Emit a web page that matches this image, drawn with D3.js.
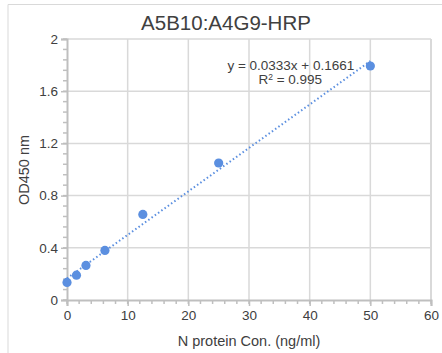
<!DOCTYPE html>
<html>
<head>
<meta charset="utf-8">
<script src="https://cdn.jsdelivr.net/npm/d3@7"></script>
<style>
  body { margin: 0; background: #fff; }
  text { font-family: "Liberation Sans", Arial, sans-serif; fill: #404040; }
</style>
</head>
<body>
<svg id="chart" width="442" height="353"></svg>
<script>
// data
const concs = [0, 1.5625, 3.125, 6.25, 12.5, 25, 50];
const ods = [0.135, 0.19, 0.265, 0.38, 0.656, 1.05, 1.793];
const slope = 0.0333, intercept = 0.1661;
const xTicks = [0, 10, 20, 30, 40, 50, 60];
const yTicks = [0, 0.4, 0.8, 1.2, 1.6, 2];

const svg = d3.select("#chart"),
      margin = {top: 39, right: 11, bottom: 53, left: 67},
      width = +svg.attr("width") - margin.left - margin.right,
      height = +svg.attr("height") - margin.top - margin.bottom;

// outer chart frame (only top/left visible in crop)
svg.append("path").attr("d", "M8,353 V4.5 H442").attr("fill", "none").attr("stroke", "#d9d9d9").attr("stroke-width", 1);

const g = svg.append("g").attr("transform", `translate(${margin.left},${margin.top})`);

const x = d3.scaleLinear().domain([0, 60]).range([0, width]);
const y = d3.scaleLinear().domain([0, 2]).range([height, 0]);

// gridlines
g.append("g").selectAll("line").data(xTicks.slice(1)).join("line")
  .attr("x1", d => x(d)).attr("x2", d => x(d)).attr("y1", 0).attr("y2", height)
  .attr("stroke", "#d9d9d9").attr("stroke-width", d => d === 60 ? 2 : 1.5);
g.append("g").selectAll("line").data(yTicks.slice(1)).join("line")
  .attr("x1", 0).attr("x2", width).attr("y1", d => y(d)).attr("y2", d => y(d))
  .attr("stroke", "#d9d9d9").attr("stroke-width", 1.5);

// minor ticks
g.append("g").selectAll("line").data(d3.range(0, 2.001, 0.08)).join("line")
  .attr("x1", -4).attr("x2", 0).attr("y1", d => y(d)).attr("y2", d => y(d))
  .attr("stroke", "#bfbfbf").attr("stroke-width", 1.5);
g.append("g").selectAll("line").data(d3.range(0, 60.1, 2)).join("line")
  .attr("x1", d => x(d)).attr("x2", d => x(d)).attr("y1", height).attr("y2", height + 4)
  .attr("stroke", "#bfbfbf").attr("stroke-width", 1.5);

// axes
const yAxis = g.append("g").call(d3.axisLeft(y).tickValues(yTicks).tickSize(6).tickFormat(d => d));
const xAxis = g.append("g").attr("transform", `translate(0,${height})`)
  .call(d3.axisBottom(x).tickValues(xTicks).tickSize(6));
[yAxis, xAxis].forEach(a => {
  a.select(".domain").attr("stroke", "#bfbfbf").attr("stroke-width", 2);
  a.selectAll(".tick line").attr("stroke", "#bfbfbf").attr("stroke-width", 1.5);
  a.selectAll(".tick text").attr("font-size", 13.5).attr("fill", "#404040")
    .attr("font-family", "Liberation Sans, Arial, sans-serif");
});
yAxis.selectAll(".tick text").attr("x", -9);
xAxis.selectAll(".tick text").attr("y", 10);

// trendline
g.append("line")
  .attr("x1", x(0)).attr("y1", y(intercept))
  .attr("x2", x(50)).attr("y2", y(slope * 50 + intercept))
  .attr("stroke", "#5b8fe0").attr("stroke-width", 2).attr("stroke-dasharray", "1.5 2.5");

// points
g.selectAll("circle").data(concs.map((c, i) => [c, ods[i]])).join("circle")
  .attr("cx", d => x(d[0])).attr("cy", d => y(d[1])).attr("r", 4.6)
  .attr("fill", "#5b8fe0");

// equation
const eq = g.append("text").attr("text-anchor", "middle").attr("font-size", 13.5);
eq.append("tspan").attr("x", x(36.9)).attr("y", y(1.8) + 5).text(`y = ${slope}x + ${intercept}`);
const r2 = eq.append("tspan").attr("x", x(36.8)).attr("y", y(1.8) + 19);
r2.append("tspan").text("R");
r2.append("tspan").attr("font-size", 8.5).attr("dy", -4).text("2");
r2.append("tspan").attr("dy", 4).text(" = 0.995");

// title
svg.append("text").attr("x", 226).attr("y", 30).attr("text-anchor", "middle")
  .attr("font-size", 20.5).attr("fill", "#222").text("A5B10:A4G9-HRP");

// axis titles
svg.append("text").attr("x", margin.left + width / 2).attr("y", 346).attr("text-anchor", "middle")
  .attr("font-size", 14.5).attr("fill", "#222").text("N protein Con. (ng/ml)");
svg.append("text").attr("transform", "translate(29,170) rotate(-90)").attr("text-anchor", "middle")
  .attr("font-size", 14.5).attr("fill", "#222").text("OD450 nm");
</script>
</body>
</html>
